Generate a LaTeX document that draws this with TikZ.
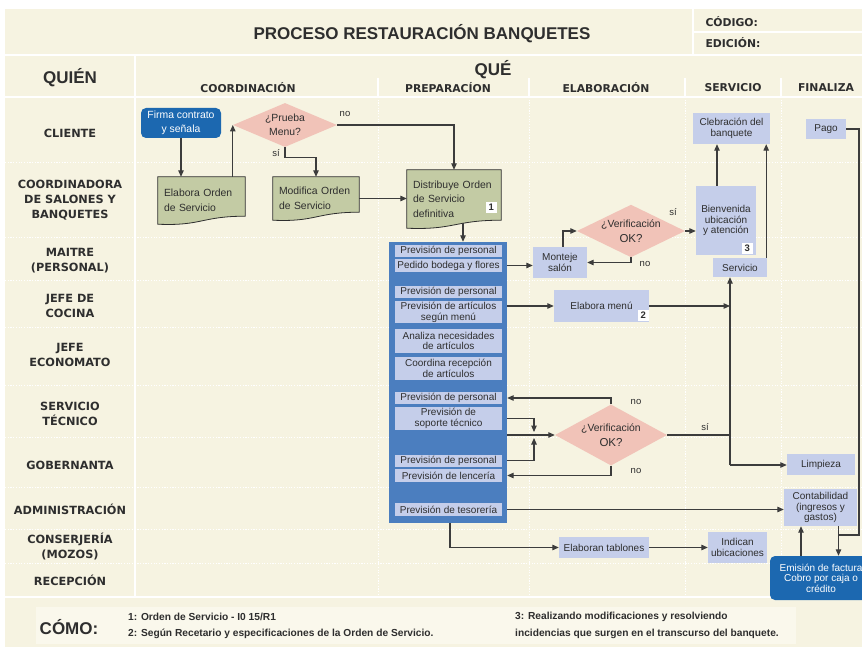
\documentclass[tikz,border=0pt]{standalone}
\usepackage{fontspec}
\setmainfont{Liberation Sans}
\newfontfamily\labfont{DejaVu Sans}
\usetikzlibrary{arrows.meta,calc,shapes.geometric}

\definecolor{cream}{HTML}{F6F3E1}
\definecolor{footcream}{HTML}{FAF8EC}
\definecolor{lavcol}{HTML}{C5CEEA}
\definecolor{prepblue}{HTML}{4B7EBF}
\definecolor{darkblue}{HTML}{1C68B0}
\definecolor{pinkdec}{HTML}{F1C3B8}
\definecolor{docgreen}{HTML}{C3CBA4}
\definecolor{ink}{HTML}{2E2E2E}
\definecolor{wirecol}{HTML}{3C3C3C}

\pgfdeclarelayer{bg}
\pgfsetlayers{bg,main}

% document symbol drawn behind a named node
\newcommand{\docshape}[1]{%
  \filldraw[fill=docgreen,draw=ink,line width=0.8pt] (#1.north west) -- (#1.north east)
    -- ($(#1.south east)+(0,-8)$)
    .. controls ($(#1.south east)!0.5!(#1.south west)+(0,-8)$) and ($(#1.south east)!0.5!(#1.south west)+(0,2)$) .. (#1.south west) -- cycle;}

\begin{document}
\begin{tikzpicture}[x=1pt,y=-1pt,>={Triangle[length=6.5pt,width=5.5pt]},
  flow/.style={draw=wirecol,line width=1.1pt},
  lavbox/.style={fill=lavcol,text=ink,align=center,inner sep=1pt,font=\fontsize{10}{10.8}\selectfont},
  inbox/.style={lavbox,minimum width=107pt},
  docbox/.style={text=ink,align=left,inner xsep=6pt,inner ysep=0pt,font=\fontsize{10.4}{14.5}\selectfont},
  decision/.style={diamond,fill=pinkdec,text=ink,inner sep=0pt,align=center,font=\fontsize{10.4}{14}\selectfont},
  bluebox/.style={fill=darkblue,rounded corners=5pt,text=white,align=center,inner sep=1pt},
  badge/.style={fill=white,text=ink,font=\bfseries\fontsize{9.5}{10}\selectfont,minimum size=11.5pt,inner sep=0pt},
  lbl/.style={text=ink,font=\fontsize{9.5}{10}\selectfont,inner sep=0pt},
  rowlab/.style={text=ink,align=center,font=\labfont\bfseries\fontsize{11.3}{15}\selectfont},
  colhead/.style={text=ink,font=\labfont\bfseries\fontsize{10.8}{13}\selectfont},
  bighead/.style={text=ink,font=\bfseries\fontsize{17}{20}\selectfont},
  foot/.style={text=ink,anchor=west,inner sep=0pt,font=\bfseries\fontsize{10.2}{12}\selectfont}]
\useasboundingbox (0,0) rectangle (862,650);
\clip (0,0) rectangle (862,650);

\begin{pgfonlayer}{bg}
\fill[cream] (5,9) rectangle (862,647);
\fill[footcream] (36,607) rectangle (796,644);
\draw[white,line width=2.5pt] (5,55) -- (862,55) (5,97) -- (862,97) (5,597) -- (862,597)
  (135,55) -- (135,597) (693,9) -- (693,55);
\draw[white,line width=1.5pt] (693,32) -- (862,32) (378,78) -- (378,97) (529,78) -- (529,97)
  (685,78) -- (685,97) (781,78) -- (781,97);
\draw[white,line width=0.9pt,dash pattern=on 1.2pt off 1.5pt]
  (5,162) -- (862,162) (5,237) -- (862,237) (5,280) -- (862,280) (5,327) -- (862,327)
  (5,385) -- (862,385) (5,437) -- (862,437) (5,487) -- (862,487) (5,529) -- (862,529)
  (5,563) -- (862,563)
  (378,97) -- (378,597) (529,97) -- (529,597) (685,97) -- (685,597) (781,97) -- (781,597);
\end{pgfonlayer}

% header
\node[bighead] (title) at (422,34) {PROCESO RESTAURACIÓN BANQUETES};
\node[colhead,anchor=west] (codigo) at (702,22) {CÓDIGO:};
\node[colhead,anchor=west] (edicion) at (702,43) {EDICIÓN:};
\node[bighead] (quien) at (70,78) {QUIÉN};
\node[bighead] (que) at (493,70) {QUÉ};
\node[colhead] (hcoord) at (248,88) {COORDINACIÓN};
\node[colhead] (hprep) at (448,88) {PREPARACÍON};
\node[colhead] (helab) at (606,88) {ELABORACIÓN};
\node[colhead] (hserv) at (733,88) {SERVICIO};
\node[colhead] (hfin) at (826,88) {FINALIZA};

% who
\node[rowlab] (rcliente) at (70,133) {CLIENTE};
\node[rowlab] (rcoord) at (70,200) {COORDINADORA\\DE SALONES Y\\BANQUETES};
\node[rowlab] (rmaitre) at (70,261) {MAITRE\\(PERSONAL)};
\node[rowlab] (rcocina) at (70,306) {JEFE DE\\COCINA};
\node[rowlab] (reconom) at (70,355) {JEFE\\ECONOMATO};
\node[rowlab] (rtecnico) at (70,414) {SERVICIO\\TÉCNICO};
\node[rowlab] (rgober) at (70,465) {GOBERNANTA};
\node[rowlab] (radmin) at (70,509) {ADMINISTRACIÓN};
\node[rowlab] (rconser) at (70,547) {CONSERJERÍA\\(MOZOS)};
\node[rowlab] (rrecep) at (70,580) {RECEPCIÓN};

% coordination
\node[bluebox,minimum width=80pt,minimum height=30pt,font=\fontsize{10.4}{13.5}\selectfont] (firma) at (181,123) {Firma contrato\\y señala};
\node[decision,aspect=2.36,minimum width=104pt,minimum height=44pt] (prueba) at (285,125) {¿Prueba\\Menu?};
\node[docbox,text width=75pt,minimum height=47pt] (elabora) at (201.5,200.5) {Elabora Orden\\de Servicio};
\node[docbox,text width=74pt,minimum height=43pt] (modif) at (316,198.5) {Modifica Orden\\de Servicio};
\node[docbox,text width=82pt,minimum height=58pt] (distrib) at (454,199) {Distribuye Orden\\de Servicio\\definitiva};
\node[badge,anchor=south east] (b1) at ([shift={(-4,-15)}]distrib.south east) {1};

% preparation
\node[fill=prepblue,minimum width=118pt,minimum height=281pt,inner sep=0pt] (prep) at (448,382.5) {};
\node[inbox,minimum height=12.5pt] (persA) at (448.5,251) {Previsión de personal};
\node[inbox,minimum height=13pt] (bodega) at (448.5,265.5) {Pedido bodega y flores};
\node[inbox,minimum height=12.5pt] (persB) at (448.5,292) {Previsión de personal};
\node[inbox,minimum height=22pt] (artic) at (448.5,312) {Previsión de artículos\\según menú};
\node[inbox,minimum height=24pt] (necesid) at (448.5,341) {Analiza necesidades\\de artículos};
\node[inbox,minimum height=23pt] (recep) at (448.5,368.5) {Coordina recepción\\de artículos};
\node[inbox,minimum height=12.5pt] (persC) at (448.5,398) {Previsión de personal};
\node[inbox,minimum height=23pt] (soporte) at (448.5,418.5) {Previsión de\\soporte técnico};
\node[inbox,minimum height=12pt] (persD) at (448.5,460.5) {Previsión de personal};
\node[inbox,minimum height=13pt] (lenceria) at (448.5,475.5) {Previsión de lencería};
\node[inbox,minimum height=13pt] (tesoreria) at (448.5,509.5) {Previsión de tesorería};

% elaboration
\node[lavbox,minimum width=54pt,minimum height=31pt] (monteje) at (560,262.5) {Monteje\\salón};
\node[decision,aspect=2,minimum width=108pt,minimum height=52pt] (verif1) at (631,231) {¿Verificación\\[1pt]{\fontsize{11.5}{12}\selectfont OK?}};
\node[lavbox,minimum width=95pt,minimum height=32pt] (elabmenu) at (601.5,306) {Elabora menú};
\node[badge,anchor=south east] (b2) at ([shift={(0,-1)}]elabmenu.south east) {2};
\node[decision,aspect=1.84,minimum width=112pt,minimum height=61pt] (verif2) at (611,435) {¿Verificación\\[1pt]{\fontsize{11.5}{12}\selectfont OK?}};
\node[lavbox,minimum width=90pt,minimum height=21pt] (elaboran) at (604,547.5) {Elaboran tablones};

% service
\node[lavbox,minimum width=77pt,minimum height=31pt] (clebr) at (731.5,128.5) {Clebración del\\banquete};
\node[lavbox,minimum width=60pt,minimum height=69pt] (bienv) at (726,220.5) {Bienvenida\\ubicación\\y atención};
\node[badge,anchor=south east] (b3) at ([shift={(-3,-1)}]bienv.south east) {3};
\node[lavbox,minimum width=54pt,minimum height=19pt] (servicio) at (740,267.5) {Servicio};
\node[lavbox,minimum width=59pt,minimum height=31pt] (indican) at (737.5,547.5) {Indican\\ubicaciones};

% close
\node[lavbox,minimum width=40pt,minimum height=20pt] (pago) at (826,129) {Pago};
\node[lavbox,minimum width=68pt,minimum height=21pt] (limpieza) at (821,464.5) {Limpieza};
\node[lavbox,minimum width=73pt,minimum height=37pt] (conta) at (820.5,507.5) {Contabilidad\\(ingresos y\\gastos)};
\node[bluebox,minimum width=102pt,minimum height=44pt,font=\fontsize{10}{10.6}\selectfont] (emision) at (821,578) {Emisión de factura\\Cobro por caja o\\crédito};

\begin{pgfonlayer}{bg}
\docshape{elabora}
\docshape{modif}
\docshape{distrib}
\end{pgfonlayer}

% connectors
\draw[flow,->] (firma.south) -- (firma.south |- elabora.north);
\draw[flow,->] (elabora.north -| prueba.west) -- (prueba.west);
\draw[flow,->] (prueba.east) -| (distrib.north);
\node[lbl] (lno1) at (345,114) {no};
\draw[flow,->] (prueba.south) -- ++(0,10) -| (modif.north);
\node[lbl] (lsi1) at (276,153) {sí};
\draw[flow,->] (modif.east) -- (modif.east -| distrib.west);
\draw[flow,->] ([shift={(9,-5)}]distrib.south) -- ([xshift=9pt]distrib.south |- prep.north);

\draw[flow,->] (bodega.east -| prep.east) -- (bodega.east -| monteje.west);
\draw[flow,->] ([xshift=3pt]monteje.north) |- (verif1.west);
\draw[flow,->] (verif1.south) |- (monteje.east);
\node[lbl] (lno2) at (645,264) {no};
\draw[flow,->] (verif1.east) -- (verif1.east -| bienv.west);
\node[lbl] (lsi2) at (673,212) {sí};
\draw[flow,->] ([xshift=-9pt]bienv.north) -- ([xshift=-9pt]bienv.north |- clebr.south);
\draw[flow,->] ([xshift=-1pt]servicio.north east) -- ([xshift=-1pt]servicio.north east |- clebr.south);

\coordinate (junc) at (730,465);
\draw[flow,->] (elabmenu.west -| prep.east) -- (elabmenu.west);
\draw[flow,->] (elabmenu.east) -- (elabmenu.east -| junc);
\draw[flow,->] (junc) -- (junc |- servicio.south);
\draw[flow,->] (junc) -- (junc -| limpieza.west);
\draw[flow] (verif2.east) -- (verif2.east -| junc);
\node[lbl] (lsi3) at (705,427) {sí};

\coordinate (mergeT) at (534,432);
\coordinate (mergeB) at (534,438);
\draw[flow,->] (soporte.east -| prep.east) -| (mergeT);
\draw[flow,->] (persD.east -| prep.east) -| (mergeB);
\draw[flow,->] (prep.east |- verif2.west) -- (verif2.west);
\draw[flow,->] (verif2.north) |- (persC.east -| prep.east);
\node[lbl] (lno3) at (636,402) {no};
\draw[flow,->] (verif2.south) |- (lenceria.east -| prep.east);
\node[lbl] (lno4) at (636,471) {no};

\draw[flow,->] (tesoreria.east -| prep.east) -- (tesoreria.east -| conta.west);
\draw[flow,->] ([xshift=2pt]prep.south) |- (elaboran.west);
\draw[flow,->] (elaboran.east) -- (elaboran.east -| indican.west);

\coordinate (contaDown) at ([xshift=18pt]conta.south);
\coordinate (pagoR) at (859,535);
\draw[flow,->] ([xshift=-20pt]emision.north) -- ([xshift=-20pt]emision.north |- conta.south);
\draw[flow,->] (contaDown) -- (contaDown |- emision.north);
\draw[flow] (pago.east) -| (pagoR) -- (pagoR -| contaDown);

% how
\node[bighead] (como) at (69,627) {CÓMO:};
\node[foot] (nota1) at (128,617) {1: Orden de Servicio - I0 15/R1};
\node[foot] (nota2) at (128,634) {2: Según Recetario y especificaciones de la Orden de Servicio.};
\node[foot] (nota3) at (515,617) {3: Realizando modificaciones y resolviendo};
\node[foot] (nota4) at (515,634) {incidencias que surgen en el transcurso del banquete.};
\end{tikzpicture}
\end{document}
